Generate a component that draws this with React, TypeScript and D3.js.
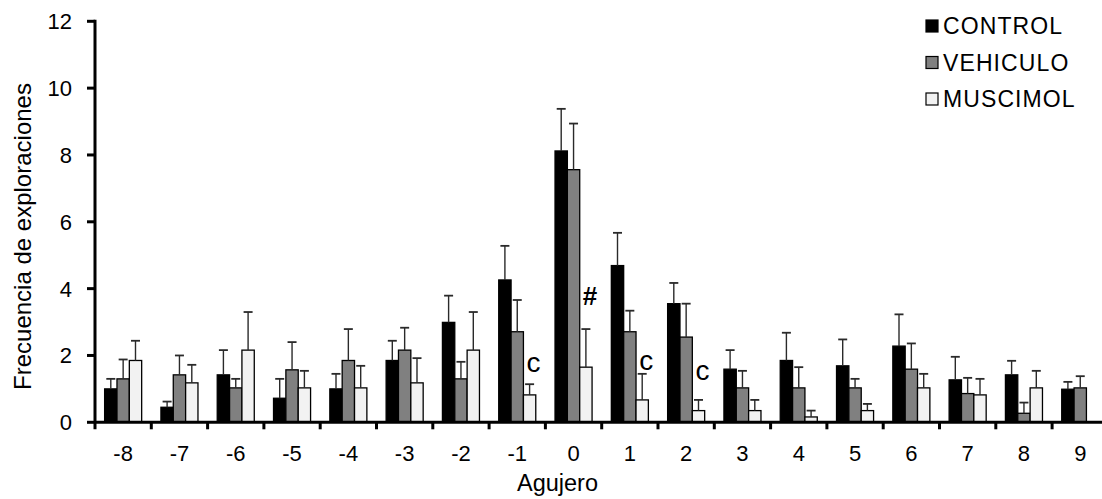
import React from "react";
import * as d3 from "d3";

// Hole positions on the board
const categories = ["-8", "-7", "-6", "-5", "-4", "-3", "-2", "-1", "0", "1", "2", "3", "4", "5", "6", "7", "8", "9"];

// Mean exploration frequency per group
const control = [1.0, 0.45, 1.42, 0.72, 1.0, 1.85, 2.99, 4.26, 8.12, 4.69, 3.55, 1.59, 1.85, 1.69, 2.28, 1.27, 1.42, 0.99];
const vehiculo = [1.3, 1.42, 1.03, 1.57, 1.85, 2.16, 1.3, 2.71, 7.56, 2.71, 2.55, 1.03, 1.03, 1.03, 1.59, 0.86, 0.27, 1.03];
const muscimol = [1.85, 1.18, 2.16, 1.03, 1.03, 1.18, 2.16, 0.82, 1.65, 0.67, 0.35, 0.35, 0.16, 0.35, 1.03, 0.82, 1.03, 0];

// Standard error (upper whisker only)
const controlErr = [0.3, 0.17, 0.74, 0.58, 0.45, 0.59, 0.8, 1.02, 1.26, 0.98, 0.62, 0.57, 0.83, 0.79, 0.95, 0.69, 0.42, 0.22];
const vehiculoErr = [0.58, 0.58, 0.27, 0.83, 0.94, 0.67, 0.51, 0.95, 1.38, 0.63, 1.0, 0.51, 0.62, 0.27, 0.77, 0.47, 0.32, 0.35];
const muscimolErr = [0.59, 0.54, 1.14, 0.51, 0.66, 0.74, 1.14, 0.32, 1.14, 0.78, 0.32, 0.32, 0.19, 0.2, 0.42, 0.48, 0.51, 0];

const seriesNames = ["CONTROL", "VEHICULO", "MUSCIMOL"];
const seriesColors = ["#000000", "#808080", "#f2f2f2"];

const yTicks = [0, 2, 4, 6, 8, 10, 12];

// Significance marks placed over the muscimol bars
const marks = [
  { hole: "-1", label: "c", y: 1.51 },
  { hole: "0", label: "#", y: 3.51 },
  { hole: "1", label: "c", y: 1.56 },
  { hole: "2", label: "c", y: 1.26 },
];

const W = 1102;
const H = 499;
const left = 95;
const step = 56.3;
const font = "Arial, 'Liberation Sans', sans-serif";

export default function App() {
  const x0 = d3
    .scaleBand<string>()
    .domain(categories)
    .range([left, left + step * categories.length]);
  const x1 = d3
    .scaleBand<string>()
    .domain(seriesNames)
    .range([0, x0.bandwidth()])
    .paddingOuter(0.78);
  const y = d3.scaleLinear().domain([0, 12]).range([422.3, 21.3]);

  const values = [control, vehiculo, muscimol];
  const errs = [controlErr, vehiculoErr, muscimolErr];
  const bw = x1.bandwidth();

  return (
    <svg
      width={W}
      height={H}
      style={{ position: "absolute", left: 0, top: 0, background: "#fff" }}
      fontFamily={font}
    >
      {/* bars */}
      {seriesNames.map((s, si) =>
        categories.map((c, ci) => {
          const v = values[si][ci];
          if (v <= 0) return null;
          const bx = (x0(c) as number) + (x1(s) as number);
          return (
            <rect
              key={s + c}
              x={bx}
              y={y(v)}
              width={bw}
              height={y(0) - y(v)}
              fill={seriesColors[si]}
              stroke="#000"
              strokeWidth={1.3}
            />
          );
        })
      )}
      {/* error bars */}
      {seriesNames.map((s, si) =>
        categories.map((c, ci) => {
          const v = values[si][ci];
          const e = errs[si][ci];
          if (v <= 0 || e <= 0) return null;
          const cx = (x0(c) as number) + (x1(s) as number) + bw / 2;
          return (
            <g key={"e" + s + c} stroke="#2a2a2a" strokeWidth={1.4}>
              <line x1={cx} x2={cx} y1={y(v)} y2={y(v + e)} />
              <line x1={cx - 4.5} x2={cx + 4.5} y1={y(v + e)} y2={y(v + e)} strokeWidth={1.8} />
            </g>
          );
        })
      )}
      {/* significance marks */}
      {marks.map((m, i) => {
        const cx = (x0(m.hole) as number) + (x1("MUSCIMOL") as number) + bw / 2 + 4;
        return (
          <text
            key={"m" + i}
            x={cx}
            y={y(m.y)}
            textAnchor="middle"
            fontSize={m.label === "#" ? 26 : 28}
            fontWeight={m.label === "#" ? "bold" : "normal"}
            fill="#000"
          >
            {m.label}
          </text>
        );
      })}
      {/* y axis */}
      <line x1={left} x2={left} y1={y(12) - 1.5} y2={y(0) + 7} stroke="#000" strokeWidth={3} />
      {yTicks.map((t) => (
        <g key={"y" + t}>
          <line x1={left - 8} x2={left} y1={y(t)} y2={y(t)} stroke="#000" strokeWidth={3} />
          <text x={72} y={y(t)} dy="0.36em" textAnchor="end" fontSize={22} fill="#000">
            {t}
          </text>
        </g>
      ))}
      {/* x axis */}
      <line x1={left} x2={left + step * categories.length} y1={y(0)} y2={y(0)} stroke="#000" strokeWidth={3} />
      {categories.map((c) => (
        <g key={"x" + c}>
          <line
            x1={(x0(c) as number) + step}
            x2={(x0(c) as number) + step}
            y1={y(0)}
            y2={y(0) + 7}
            stroke="#000"
            strokeWidth={3}
          />
          <text
            x={(x0(c) as number) + x0.bandwidth() / 2}
            y={461}
            textAnchor="middle"
            fontSize={22}
            fill="#000"
          >
            {c}
          </text>
        </g>
      ))}
      <text x={557.5} y={491} textAnchor="middle" fontSize={23.5} fill="#000">
        Agujero
      </text>
      <text
        transform={`translate(31,236.5) rotate(-90)`}
        textAnchor="middle"
        fontSize={24}
        fill="#000"
      >
        Frecuencia de exploraciones
      </text>
      {/* legend */}
      {seriesNames.map((s, i) => (
        <g key={"l" + s} transform={`translate(926,${26 + i * 36.5})`}>
          <rect x={0} y={-6} width={12} height={12} fill={seriesColors[i]} stroke="#000" strokeWidth={1.2} />
          <text x={17} y={0} dy="0.36em" fontSize={23} letterSpacing={1.1} fill="#000">
            {s}
          </text>
        </g>
      ))}
    </svg>
  );
}
